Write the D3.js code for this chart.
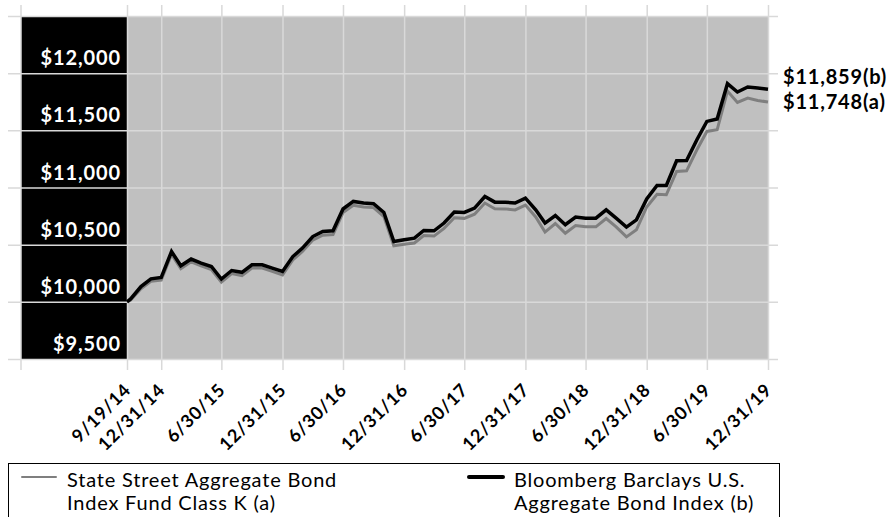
<!DOCTYPE html>
<html>
<head>
<meta charset="utf-8">
<script src="https://cdn.jsdelivr.net/npm/d3@7"></script>
<style>
body { margin: 0; background: #fff; }
text { font-family: Lato, "Noto Sans", sans-serif; }
</style>
</head>
<body>
<svg id="chart" width="892" height="517"></svg>
<script>
const month_ends = [
    "9/19/14", "9/30/14", "10/31/14", "11/30/14", "12/31/14",
    "1/31/15", "2/28/15", "3/31/15", "4/30/15", "5/31/15", "6/30/15",
    "7/31/15", "8/31/15", "9/30/15", "10/31/15", "11/30/15", "12/31/15",
    "1/31/16", "2/29/16", "3/31/16", "4/30/16", "5/31/16", "6/30/16",
    "7/31/16", "8/31/16", "9/30/16", "10/31/16", "11/30/16", "12/31/16",
    "1/31/17", "2/28/17", "3/31/17", "4/30/17", "5/31/17", "6/30/17",
    "7/31/17", "8/31/17", "9/30/17", "10/31/17", "11/30/17", "12/31/17",
    "1/31/18", "2/28/18", "3/31/18", "4/30/18", "5/31/18", "6/30/18",
    "7/31/18", "8/31/18", "9/30/18", "10/31/18", "11/30/18", "12/31/18",
    "1/31/19", "2/28/19", "3/31/19", "4/30/19", "5/31/19", "6/30/19",
    "7/31/19", "8/31/19", "9/30/19", "10/31/19", "11/30/19", "12/31/19"
];
// State Street Aggregate Bond Index Fund Class K (a)
const fund_values = [
    10000, 10015, 10115, 10180, 10190,
    10415, 10290, 10350, 10314, 10283, 10172,
    10247, 10230, 10296, 10296, 10266, 10235,
    10366, 10440, 10540, 10583, 10589, 10780,
    10845, 10830, 10824, 10746, 10490, 10503,
    10515, 10580, 10575, 10643, 10736, 10730,
    10766, 10864, 10814, 10813, 10804, 10846,
    10742, 10610, 10685, 10600, 10667, 10656,
    10656, 10729, 10656, 10568, 10630, 10830,
    10940, 10936, 11140, 11146, 11330, 11490,
    11505, 11843, 11744, 11782, 11761, 11748
];
// Bloomberg Barclays U.S. Aggregate Bond Index (b)
const index_values = [
    10000, 10025, 10134, 10201, 10213,
    10440, 10315, 10374, 10339, 10309, 10199,
    10274, 10258, 10324, 10324, 10295, 10265,
    10396, 10470, 10571, 10615, 10621, 10812,
    10878, 10864, 10858, 10781, 10527, 10543,
    10557, 10624, 10621, 10689, 10785, 10782,
    10820, 10921, 10872, 10872, 10864, 10907,
    10805, 10689, 10755, 10674, 10741, 10732,
    10732, 10805, 10732, 10654, 10717, 10899,
    11018, 11018, 11234, 11236, 11418, 11578,
    11599, 11908, 11835, 11879, 11870, 11859
];
const x_tick_labels = ["9/19/14", "12/31/14", "6/30/15", "12/31/15", "6/30/16", "12/31/16",
    "6/30/17", "12/31/17", "6/30/18", "12/31/18", "6/30/19", "12/31/19"];
const y_ticks = [9500, 10000, 10500, 11000, 11500, 12000, 12500];
const y_labels = [9500, 10000, 10500, 11000, 11500, 12000];
const legend_labels = [
    ["State Street Aggregate Bond", "Index Fund Class K (a)"],
    ["Bloomberg Barclays U.S.", "Aggregate Bond Index (b)"]
];
const end_labels = ["$11,859(b)", "$11,748(a)"];

const parse = d3.timeParse("%m/%d/%y");
const money = d3.format("$,");

var panel_left = 21, plot_left = 127, plot_right = 768, plot_top = 16, plot_bottom = 359;
var grid_color = "#d9d9d9";

const svg = d3.select("#chart");

const x = d3.scaleTime()
    .domain([parse(month_ends[0]), parse(month_ends[month_ends.length - 1])])
    .range([plot_left, plot_right]);
const y = d3.scaleLinear()
    .domain([9500, 12500])
    .range([plot_bottom, plot_top]);

const fund = month_ends.map((d, i) => ({date: parse(d), value: fund_values[i]}));
const index = month_ends.map((d, i) => ({date: parse(d), value: index_values[i]}));

// backgrounds
svg.append("rect")
    .attr("x", panel_left)
    .attr("y", plot_top)
    .attr("width", plot_left - panel_left)
    .attr("height", plot_bottom - plot_top)
    .style("fill", "#000");
svg.append("rect")
    .attr("x", plot_left)
    .attr("y", plot_top)
    .attr("width", plot_right - plot_left)
    .attr("height", plot_bottom - plot_top)
    .style("fill", "#c0c0c0");

// grid lines, drawn with the axes
const y_grid = svg.append("g")
    .attr("transform", "translate(8,0)")
    .call(d3.axisRight(y).tickValues(y_ticks).tickSize(770).tickFormat(""));
const x_grid = svg.append("g")
    .attr("transform", "translate(0,5)")
    .call(d3.axisBottom(x).tickValues(x_tick_labels.map(parse)).tickSize(365).tickFormat(""));
[y_grid, x_grid].forEach(function(g){
    g.select(".domain").remove();
    g.selectAll(".tick line")
        .style("stroke", grid_color)
        .style("stroke-width", 1.5);
});
svg.append("line")
    .attr("x1", panel_left).attr("x2", panel_left)
    .attr("y1", 5).attr("y2", 370)
    .style("stroke", grid_color)
    .style("stroke-width", 1.5);

// y labels in the black panel
svg.selectAll(".y-label")
    .data(y_labels)
    .enter()
    .append("text")
    .attr("class", "y-label")
    .attr("x", 121)
    .attr("y", d => y(d) - 8)
    .attr("text-anchor", "end")
    .style("fill", "#fff")
    .style("font-weight", "bold")
    .style("font-size", "20px")
    .style("letter-spacing", "0.9px")
    .text(d => money(d));

// x labels
svg.selectAll(".x-label")
    .data(x_tick_labels)
    .enter()
    .append("text")
    .attr("class", "x-label")
    .attr("transform", d => "translate(" + (x(parse(d)) + 5) + ",391) rotate(-45)")
    .attr("text-anchor", "end")
    .style("fill", "#000")
    .style("font-weight", "bold")
    .style("font-size", "18px")
    .style("letter-spacing", "0.8px")
    .text(d => d);

// lines
const line = d3.line()
    .x(d => x(d.date))
    .y(d => y(d.value));
svg.append("path")
    .datum(fund)
    .attr("d", line)
    .style("fill", "none")
    .style("stroke", "#7f7f7f")
    .style("stroke-width", 3);
svg.append("path")
    .datum(index)
    .attr("d", line)
    .style("fill", "none")
    .style("stroke", "#000")
    .style("stroke-width", 3.5);

// end values
svg.append("text")
    .attr("x", 783)
    .attr("y", y(index_values[index_values.length - 1]) - 5)
    .style("font-weight", "bold")
    .style("font-size", "20px")
    .style("letter-spacing", "0.8px")
    .text(end_labels[0]);
svg.append("text")
    .attr("x", 783)
    .attr("y", y(fund_values[fund_values.length - 1]) + 7)
    .style("font-weight", "bold")
    .style("font-size", "20px")
    .style("letter-spacing", "0.8px")
    .text(end_labels[1]);

// legend
svg.append("rect")
    .attr("x", 8.5)
    .attr("y", 463.5)
    .attr("width", 771)
    .attr("height", 70)
    .style("fill", "#fff")
    .style("stroke", "#000")
    .style("stroke-width", 1);
const legend_styles = [
    {x: 22, text_x: 67, color: "#7f7f7f", width: 2},
    {x: 469, text_x: 514, color: "#000", width: 4}
];
legend_styles.forEach(function(s, i){
    svg.append("line")
        .attr("x1", s.x).attr("x2", s.x + 34)
        .attr("y1", 477).attr("y2", 477)
        .style("stroke", s.color)
        .style("stroke-width", s.width)
        .style("stroke-linecap", "round");
    svg.append("text")
        .attr("x", s.text_x)
        .attr("y", 487)
        .style("font-size", "20px")
        .style("letter-spacing", "0.8px")
        .text(legend_labels[i][0]);
    svg.append("text")
        .attr("x", s.text_x)
        .attr("y", 510)
        .style("font-size", "20px")
        .style("letter-spacing", "0.8px")
        .text(legend_labels[i][1]);
});
</script>
</body>
</html>
